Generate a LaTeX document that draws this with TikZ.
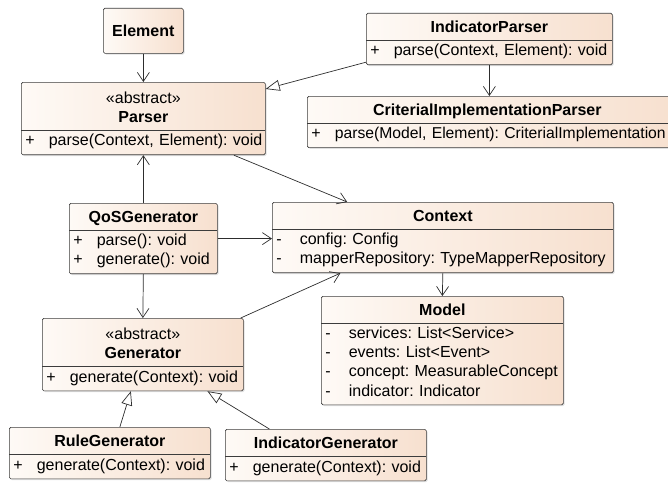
\documentclass[tikz,border=0pt]{standalone}
\usepackage{fontspec}
\setmainfont{Liberation Sans}
\usepackage{tikz}
\usetikzlibrary{shapes.multipart, arrows.meta, calc, shadows}
\definecolor{umlpale}{RGB}{254, 250, 246}
\definecolor{umlpeach}{RGB}{247, 224, 207}
\definecolor{umledge}{RGB}{60, 60, 60}
\definecolor{umlline}{RGB}{45, 45, 45}
\frenchspacing

\newcommand{\plainclass}[1]{\makebox[\linewidth]{\rule[-4.5pt]{0pt}{19.5pt}\textbf{#1}}}
\newcommand{\abstractclass}[1]{\makebox[\linewidth]{\rule{0pt}{17pt}«abstract»}\\\makebox[\linewidth]{\rule[-4.5pt]{0pt}{0pt}\textbf{#1}}}
\newcommand{\member}[2]{\rule[-5pt]{0pt}{14pt}\makebox[23.5pt][l]{#1}\mbox{#2}}

\tikzset{
  umlbox/.style={draw=umledge, line width=0.7pt, rounded corners=1.5pt,
    left color=umlpale, right color=umlpeach, anchor=north west,
    minimum width=80pt, minimum height=45pt, inner sep=0pt,
    font=\fontsize{16}{19}\selectfont,
    drop shadow={shadow xshift=1.2pt, shadow yshift=-1.2pt, opacity=.25}},
  umlclass/.style={rectangle split, rectangle split parts=2,
    draw=umledge, line width=0.7pt, rounded corners=1.5pt,
    left color=umlpale, right color=umlpeach, anchor=north west,
    align=left, inner xsep=4pt, inner ysep=3.5pt,
    font=\fontsize{16}{19}\selectfont,
    drop shadow={shadow xshift=1.2pt, shadow yshift=-1.2pt, opacity=.25}},
  uses/.style={draw=umlline, line width=0.7pt, -{Straight Barb[length=9pt, width=12pt]}},
  extends/.style={draw=umlline, line width=0.7pt, -{Triangle[length=14pt, width=11pt, fill=white]}},
}

\begin{document}
\begin{tikzpicture}[x=1pt, y=-1pt]
  \useasboundingbox (0,0) rectangle (668,487);

  % Parsers
  \node[umlbox] (element) at (103,8) {\textbf{Element}};
  \node[umlclass, text width=236pt] (parser) at (21,82) {
    \abstractclass{Parser}
    \nodepart{two}\member{+}{parse(Context, Element): void}
  };
  \node[umlclass, text width=238pt] (iparser) at (366,13) {
    \plainclass{IndicatorParser}
    \nodepart{two}\member{+}{parse(Context, Element): void}
  };
  \node[umlclass, text width=362pt] (cip) at (307,96) {
    \makebox[352pt]{\rule[-4.5pt]{0pt}{19.5pt}\textbf{CriterialImplementationParser}}
    \nodepart{two}\member{+}{\fontsize{15.7}{19}\selectfont parse(Model, Element): CriterialImplementation}
  };

  % Generator side
  \node[umlclass, text width=140pt] (qos) at (69,203) {
    \plainclass{QoSGenerator}
    \nodepart{two}\member{+}{parse(): void}\\\member{+}{generate(): void}
  };
  \node[umlclass, text width=333pt] (ctx) at (272,202) {
    \plainclass{Context}
    \nodepart{two}\member{-}{config: Config}\\\member{-}{mapperRepository: TypeMapperRepository}
  };
  \node[umlclass, text width=234pt] (model) at (321,296) {
    \plainclass{Model}
    \nodepart{two}\member{-}{services: List<Service>}\\\member{-}{events: List<Event>}\\
    \member{-}{concept: MeasurableConcept}\\\member{-}{indicator: Indicator}
  };
  \node[umlclass, text width=193pt] (gen) at (42,318) {
    \abstractclass{Generator}
    \nodepart{two}\member{+}{generate(Context): void}
  };
  \node[umlclass, text width=193pt] (rgen) at (9,427) {
    \plainclass{RuleGenerator}
    \nodepart{two}\member{+}{generate(Context): void}
  };
  \node[umlclass, text width=193pt] (igen) at (225,429) {
    \plainclass{IndicatorGenerator}
    \nodepart{two}\member{+}{generate(Context): void}
  };

  % Dependencies
  \draw[uses] (element.south) -- (parser.north);
  \draw[uses] (iparser.south) -- (iparser.south |- cip.north);
  \draw[uses] (qos.north) -- (parser.south);
  \draw[uses] (qos.south) -- (gen.north);
  \draw[uses] (qos.east) -- (qos.east -| ctx.west);
  \draw[uses] ($(parser.south west)!.87!(parser.south east)$) -- ($(ctx.north west)!.22!(ctx.north east)$);
  \draw[uses] ($(gen.north east)+(-3,0)$) -- ($(ctx.south west)!.2!(ctx.south east)$);
  \draw[uses] (ctx.south) -- (model.north);

  % Inheritance
  \draw[extends] ($(iparser.south west)+(0,-3)$) -- ($(parser.north east)+(0,7)$);
  \draw[extends] ($(rgen.north)+(10,0)$) -- ($(gen.south)+(-12,0)$);
  \draw[extends] ($(igen.north west)!.22!(igen.north east)$) -- ($(gen.south west)!.82!(gen.south east)$);
\end{tikzpicture}
\end{document}
